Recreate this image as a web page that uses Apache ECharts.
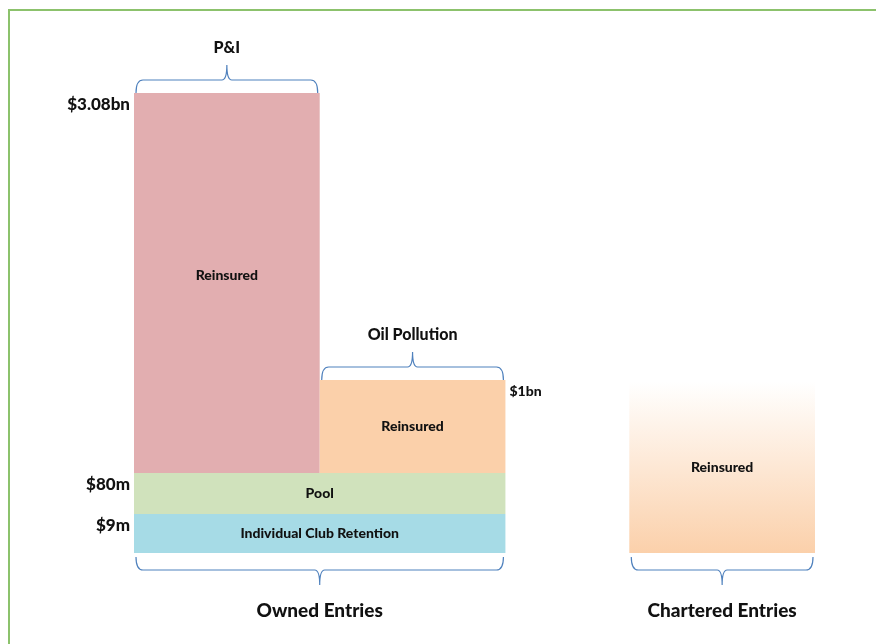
<!DOCTYPE html>
<html><head><meta charset="utf-8">
<script src="https://cdn.jsdelivr.net/npm/echarts@6/dist/echarts.min.js"></script>
<style>html,body{margin:0;padding:0;background:#fff}#c{width:876px;height:644px}</style>
</head><body><div id="c"></div>
<script>
// Schematic layers (heights are schematic, not to scale)
const blockNames = ['Individual Club Retention', 'Pool', 'Reinsured', 'Reinsured', 'Reinsured'];
const blockX0 = [0, 0, 0, 1, 2.667];
const blockX1 = [2, 2, 1, 2, 3.667];
const blockY0 = [0, 39, 80, 80, 0];
const blockY1 = [39, 80, 460, 173, 171];
const blockLimits = ['$9m', '$80m', '$3.08bn', '$1bn', ''];
const limitSide = ['left', 'left', 'left', 'right', ''];

const groupNames = ['P&I', 'Oil Pollution', 'Owned Entries', 'Chartered Entries'];
const groupX0 = [0, 1, 0, 2.667];
const groupX1 = [1, 2, 2, 3.667];
const groupY = [460, 173, 0, 0];
const groupSide = ['top', 'top', 'bottom', 'bottom'];

const blockColors = ['#a6dbe6', '#d0e2bc', '#e2aeb0', '#fbd0aa', 'gradient'];
const FONT = 'Lato, "Open Sans", sans-serif';

const chart = echarts.init(document.getElementById('c'), null, {renderer: 'canvas'});

const blockData = blockNames.map((n, i) => [blockX0[i], blockX1[i], blockY0[i], blockY1[i], i]);
const groupData = groupNames.map((n, i) => [groupX0[i], groupX1[i], groupY[i], i]);

function renderBlock(params, api) {
  const i = api.value(4);
  const tl = api.coord([api.value(0), api.value(3)]);
  const br = api.coord([api.value(1), api.value(2)]);
  let fill = blockColors[i];
  if (fill === 'gradient') {
    fill = new echarts.graphic.LinearGradient(0, 0, 0, 1, [
      {offset: 0, color: 'rgba(251,208,170,0.0)'},
      {offset: 1, color: 'rgba(251,208,170,1)'}
    ]);
  }
  const children = [{
    type: 'rect',
    shape: {x: tl[0], y: tl[1], width: br[0] - tl[0], height: br[1] - tl[1]},
    style: {fill: fill}
  }, {
    type: 'text',
    style: {
      text: blockNames[i], x: (tl[0] + br[0]) / 2, y: (tl[1] + br[1]) / 2 + (i === 2 ? -8 : 0),
      align: 'center', verticalAlign: 'middle',
      font: '900 14px ' + FONT, fill: '#111'
    }
  }];
  if (blockLimits[i]) {
    const left = limitSide[i] === 'left';
    children.push({
      type: 'text',
      style: {
        text: blockLimits[i],
        x: left ? tl[0] - 4 : br[0] + 4,
        y: tl[1] + (left ? 12 : 11),
        align: left ? 'right' : 'left', verticalAlign: 'middle',
        font: '900 ' + (left ? 17 : 14) + 'px ' + FONT, fill: '#111'
      }
    });
  }
  return {type: 'group', children: children};
}

function renderBrace(params, api) {
  const i = api.value(3);
  const a = api.coord([api.value(0), api.value(2)]);
  const b = api.coord([api.value(1), api.value(2)]);
  const top = groupSide[i] === 'top';
  const dir = top ? -1 : 1;
  const x0 = a[0] + 2, x1 = b[0] - 2, xm = (a[0] + b[0]) / 2;
  const yE = a[1] + dir * (top ? 0 : 4);
  const yH = yE + dir * 13;
  const yT = yH + dir * 15;
  const path = 'M' + x0 + ' ' + yE + ' Q' + x0 + ' ' + yH + ' ' + (x0 + 7) + ' ' + yH +
    ' L' + (xm - 5) + ' ' + yH + ' Q' + xm + ' ' + yH + ' ' + xm + ' ' + yT +
    ' Q' + xm + ' ' + yH + ' ' + (xm + 5) + ' ' + yH +
    ' L' + (x1 - 7) + ' ' + yH + ' Q' + x1 + ' ' + yH + ' ' + x1 + ' ' + yE;
  return {type: 'group', children: [{
    type: 'path',
    shape: {pathData: path},
    style: {fill: null, stroke: '#4f81bd', lineWidth: 1.2}
  }, {
    type: 'text',
    style: {
      text: groupNames[i], x: xm, y: yT + dir * (top ? 17 : 26),
      align: 'center', verticalAlign: 'middle',
      font: '900 ' + (top ? 16 : 19) + 'px ' + FONT, fill: '#111'
    }
  }]};
}

chart.setOption({
  animation: false,
  backgroundColor: '#ffffff',
  graphic: [{
    type: 'rect', shape: {x: 9, y: 10, width: 900, height: 700},
    style: {fill: null, stroke: '#8cc26c', lineWidth: 2}, z: 0
  }],
  grid: {left: 134, right: 61, top: 93, bottom: 91},
  xAxis: {type: 'value', min: 0, max: 3.667, show: false},
  yAxis: {type: 'value', min: 0, max: 460, show: false},
  series: [
    {type: 'custom', renderItem: renderBlock, data: blockData, clip: false, silent: true, z: 2},
    {type: 'custom', renderItem: renderBrace, data: groupData, clip: false, silent: true, z: 3}
  ]
});
</script></body></html>
